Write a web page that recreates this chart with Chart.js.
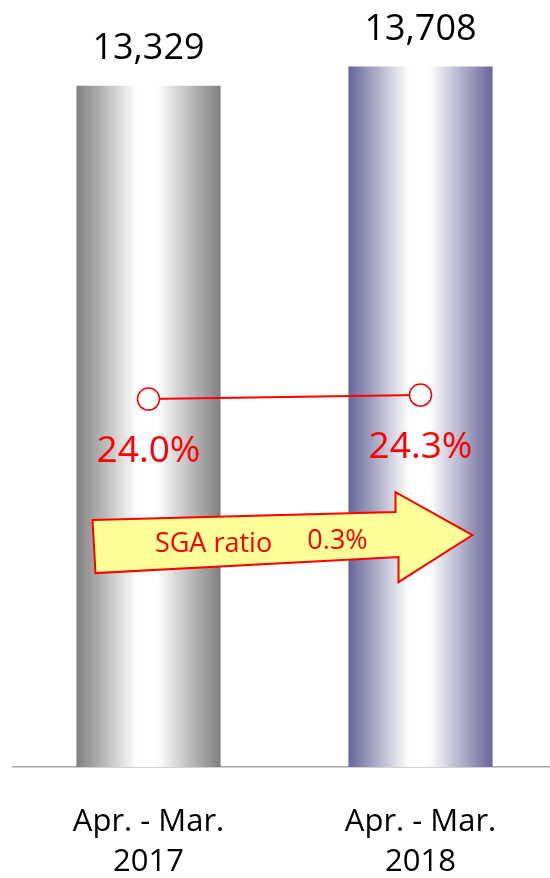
<!DOCTYPE html>
<html>
<head>
<meta charset="utf-8">
<script src="https://cdn.jsdelivr.net/npm/chart.js@4.4.1/dist/chart.umd.min.js"></script>
<style>
  html, body { margin: 0; padding: 0; background: #fff; overflow: hidden; }
  #wrap { width: 569px; height: 878px; }
</style>
</head>
<body>
<div id="wrap"><canvas id="sgaChart"></canvas></div>
<script>
  // values
  const categories = [['Apr. - Mar.', '2017'], ['Apr. - Mar.', '2018']];
  const sales = [13329, 13708];
  const sgaRatio = [24.0, 24.3];
  const ratioChange = 0.3;
  const barColors = ['#7f7f7f', '#666699'];

  const FONT = "'Open Sans', 'DejaVu Sans', sans-serif";

  // gradient bars + value labels + the SGA arrow
  const decorPlugin = {
    id: 'decor',
    beforeDatasetsDraw(chart) {
      const ctx = chart.ctx;
      const meta = chart.getDatasetMeta(1);
      meta.data.forEach((bar, i) => {
        const left = bar.x - bar.width / 2;
        const g = ctx.createLinearGradient(left, 0, left + bar.width, 0);
        g.addColorStop(0, barColors[i]);
        g.addColorStop(0.42, '#ffffff');
        g.addColorStop(0.56, '#ffffff');
        g.addColorStop(1, barColors[i]);
        bar.options.backgroundColor = g;
      });
    },
    afterDatasetsDraw(chart) {
      const ctx = chart.ctx;
      const bars = chart.getDatasetMeta(1).data;
      const pts = chart.getDatasetMeta(0).data;
      ctx.save();
      ctx.textAlign = 'center';
      ctx.textBaseline = 'middle';

      // bar totals
      ctx.fillStyle = '#000';
      ctx.font = '36px ' + FONT;
      bars.forEach((bar, i) => {
        ctx.fillText(sales[i].toLocaleString('en-US'), bar.x, bar.y - 37);
      });

      // ratio labels
      ctx.fillStyle = '#ff0000';
      ctx.font = '37px ' + FONT;
      pts.forEach((p, i) => {
        ctx.fillText(sgaRatio[i].toFixed(1) + '%', p.x, p.y + 52);
      });

      // arrow
      const x0 = pts[0].x, x1 = pts[1].x;
      const yb = pts[0].y;
      const shape = [
        [x0 - 56, yb + 121], [x1 - 25, yb + 113], [x1 - 25, yb + 93],
        [x1 + 52, yb + 136], [x1 - 22, yb + 183], [x1 - 22, yb + 158],
        [x0 - 53, yb + 174]
      ];
      ctx.beginPath();
      shape.forEach(([x, y], k) => k ? ctx.lineTo(x, y) : ctx.moveTo(x, y));
      ctx.closePath();
      ctx.fillStyle = '#ffff99';
      ctx.fill();
      ctx.strokeStyle = '#ff0000';
      ctx.lineWidth = 2;
      ctx.stroke();

      ctx.fillStyle = '#ff0000';
      ctx.font = '27px ' + FONT;
      ctx.fillText('SGA ratio', x0 + 65, yb + 145);
      ctx.fillText(ratioChange.toFixed(1) + '%', x0 + 189, yb + 142);
      ctx.restore();
    }
  };

  new Chart(document.getElementById('sgaChart'), {
    data: {
      labels: categories,
      datasets: [
        {
          type: 'line',
          data: sgaRatio,
          yAxisID: 'y1',
          borderColor: '#ff0000',
          borderWidth: 2,
          pointRadius: 11,
          pointBackgroundColor: '#ffffff',
          pointBorderColor: '#ff0000',
          pointBorderWidth: 1.5,
          order: 0
        },
        {
          type: 'bar',
          data: sales,
          yAxisID: 'y',
          backgroundColor: barColors,
          barPercentage: 0.53,
          categoryPercentage: 1,
          order: 1
        }
      ]
    },
    options: {
      responsive: true,
      maintainAspectRatio: false,
      animation: false,
      layout: { padding: 0 },
      plugins: { legend: { display: false }, tooltip: { enabled: false } },
      scales: {
        x: {
          grid: { display: false },
          border: { color: '#a6a6a6', width: 1.5 },
          ticks: { color: '#000', padding: 27, font: { family: FONT, size: 31, lineHeight: 1.3 } },
          afterFit(scale) { scale.height = 111; }
        },
        y: { display: false, min: 0, max: 14764 },
        y1: { display: false, min: -3.6, max: 53.0 }
      }
    },
    plugins: [decorPlugin]
  });
</script>
</body>
</html>
